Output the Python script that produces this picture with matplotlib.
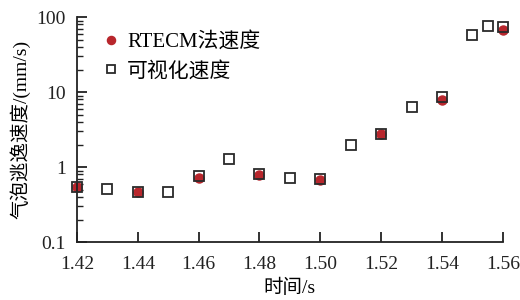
import numpy as np
import matplotlib
matplotlib.use("Agg")
import matplotlib.pyplot as plt
from matplotlib.ticker import FixedLocator, FuncFormatter, LogLocator, NullFormatter

plt.rcParams['font.family'] = ['Liberation Serif', 'Noto Sans CJK SC', 'DejaVu Sans']

# data
t_rtecm = [1.42, 1.44, 1.46, 1.48, 1.50, 1.52, 1.54, 1.56]
v_rtecm = [0.55, 0.46, 0.71, 0.78, 0.68, 2.8, 7.8, 68]

t_vis = [1.42, 1.43, 1.44, 1.45, 1.46, 1.47, 1.48, 1.49, 1.50, 1.51, 1.52,
         1.53, 1.54, 1.55, 1.555, 1.56]
v_vis = [0.54, 0.51, 0.46, 0.46, 0.76, 1.27, 0.81, 0.71, 0.69, 1.96, 2.75,
         6.3, 8.6, 58, 76, 74]

x_ticks = [1.42, 1.44, 1.46, 1.48, 1.50, 1.52, 1.54, 1.56]

fig = plt.figure(figsize=(5.2, 3.0), dpi=100)
ax = fig.add_axes([0.148, 0.193, 0.819, 0.75])

ax.plot(t_rtecm, v_rtecm, 'o', ms=6.5, color='#b8262c', mec='#b8262c',
        label='RTECM法速度', zorder=2, clip_on=False)
ax.plot(t_vis, v_vis, 's', ms=7, mfc='none', mec='#2a2a2a', mew=1.3,
        label='可视化速度', zorder=3, clip_on=False)

ax.set_yscale('log')
ax.set_ylim(0.1, 100)
ax.set_xlim(1.42, 1.56)

ax.xaxis.set_major_locator(FixedLocator(x_ticks))
ax.xaxis.set_major_formatter(FuncFormatter(lambda v, p: '%.2f' % v))
ax.yaxis.set_major_locator(LogLocator(base=10, numticks=10))
ax.yaxis.set_major_formatter(FuncFormatter(lambda v, p: '%g' % v))
ax.yaxis.set_minor_locator(LogLocator(base=10, subs=np.arange(2, 10), numticks=10))
ax.yaxis.set_minor_formatter(NullFormatter())

for s in ['top', 'right']:
    ax.spines[s].set_visible(False)
for s in ['left', 'bottom']:
    ax.spines[s].set_linewidth(1.3)
    ax.spines[s].set_color('#222222')

ax.tick_params(which='major', direction='in', length=7, width=1.3,
               labelsize=14, colors='#222222')
ax.tick_params(axis='x', which='major', pad=10)
ax.tick_params(axis='y', which='major', pad=8)
ax.tick_params(which='minor', direction='in', length=4, width=1.0, colors='#222222')
ax.tick_params(axis='x', which='minor', bottom=False)

ax.set_xlabel('时间/s', fontsize=14, labelpad=4)
ax.set_ylabel('气泡逃逸速度/(mm/s)', fontsize=14, labelpad=4)

ax.legend(loc='upper left', bbox_to_anchor=(0.035, 0.97), frameon=False,
          fontsize=15, handletextpad=0.3, labelspacing=0.45, handlelength=1.0,
          markerscale=0.9, borderaxespad=0)

fig.savefig('out.png', dpi=100)
